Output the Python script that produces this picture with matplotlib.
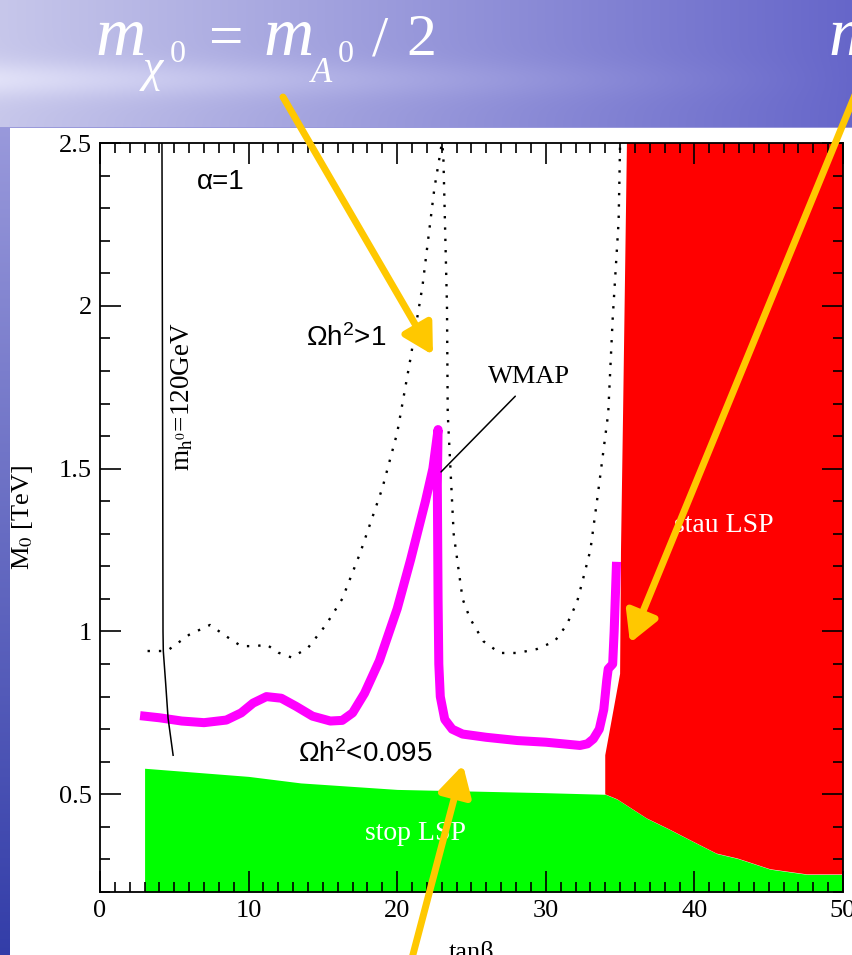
import matplotlib.pyplot as plt
import numpy as np
from matplotlib.patches import Rectangle, FancyArrowPatch
from matplotlib.ticker import MultipleLocator

plt.rcParams['font.family'] = 'Liberation Serif'
plt.rcParams['mathtext.fontset'] = 'custom'
plt.rcParams['mathtext.rm'] = 'Liberation Sans'
plt.rcParams['mathtext.it'] = 'Liberation Sans:italic'

# --- values (tan beta, M0 in TeV) ---
m0_min, m0_max = 0.2, 2.5

# stop LSP region, upper edge
tanb_stop = [3, 10, 13.5, 20, 30, 34, 34.8, 36.8, 38.2, 39.9, 41.5, 42.9, 45.1, 47.6, 50]
m0_stop = [0.58, 0.555, 0.535, 0.515, 0.505, 0.50, 0.485, 0.426, 0.395, 0.355, 0.318, 0.303, 0.27, 0.254, 0.254]

# stau LSP region, left edge (top to bottom)
tanb_stau = [35.46, 35.2, 35.06, 35.0, 34.0, 34.0]
m0_stau = [2.5, 1.67, 1.25, 0.87, 0.62, 0.50]

# WMAP strip
tanb_wmap = [3.0, 4.0, 5.5, 7.0, 8.5, 9.5, 10.3, 11.2, 12.2, 13.2, 14.3, 15.5, 16.3, 17.0, 17.8,
             18.8, 20.0, 20.9, 21.9, 22.4, 22.75, 22.7, 22.75, 22.8, 22.9, 23.2, 23.7, 24.4, 26.0,
             28.1, 30.0, 32.3, 32.8, 33.2, 33.6, 33.9, 34.1, 34.2, 34.5, 34.6, 34.75]
m0_wmap = [0.74, 0.735, 0.725, 0.72, 0.728, 0.75, 0.78, 0.80, 0.795, 0.77, 0.74, 0.725, 0.727, 0.75, 0.81,
           0.91, 1.07, 1.22, 1.40, 1.50, 1.62, 1.45, 1.10, 0.90, 0.80, 0.73, 0.70, 0.685, 0.675,
           0.665, 0.66, 0.65, 0.655, 0.67, 0.70, 0.76, 0.85, 0.885, 0.90, 1.0, 1.2]

# Omega h^2 = 1 contour
tanb_omega = [3.2, 4.5, 6.0, 7.4, 8.5, 9.5, 10.5, 11.2, 12.0, 12.9, 14.0, 15.2, 16.3, 17.5, 19.0,
              20.0, 20.9, 21.7, 22.5, 22.9, 23.0, 23.1, 23.35, 23.4, 23.8, 24.4, 24.9, 25.8, 26.9,
              28.1, 29.4, 30.6, 31.4, 32.1, 32.5, 33.0, 33.5, 34.2, 34.5, 34.9, 35.0]
m0_omega = [0.94, 0.94, 0.99, 1.02, 0.985, 0.955, 0.955, 0.96, 0.935, 0.92, 0.95, 1.02, 1.10, 1.24,
            1.44, 1.61, 1.84, 2.06, 2.36, 2.47, 2.5, 2.47, 2.0, 1.67, 1.30, 1.10, 1.04, 0.97, 0.934,
            0.934, 0.946, 0.97, 1.02, 1.09, 1.16, 1.25, 1.42, 1.67, 1.96, 2.26, 2.5]

# m_h = 120 GeV contour
tanb_mh = [4.17, 4.22, 4.24, 4.26, 4.42, 4.58, 4.92]
m0_mh = [2.5, 1.5, 1.0, 0.94, 0.84, 0.734, 0.62]

xticks = [0, 10, 20, 30, 40, 50]
xticklabels = ['0', '10', '20', '30', '40', '50']
yticks = [0.5, 1.0, 1.5, 2.0, 2.5]
yticklabels = ['0.5', '1', '1.5', '2', '2.5']

W, H = 853, 955
fig = plt.figure(figsize=(W / 100, H / 100), dpi=100)

# slide background
bg = fig.add_axes([0, 0, 1, 1], zorder=-2)
yy, xx = np.mgrid[0:H, 0:W]
tx = xx / W
band = np.exp(-((yy - 80) / 18.0) ** 2) * 0.10 * (1 - tx)
top = np.stack([0.78 - 0.38 * tx + band, 0.78 - 0.38 * tx + band, 0.92 - 0.13 * tx + band * 0.5], -1)
ty = np.clip((yy - 128) / (H - 128), 0, 1)
side = np.stack([0.60 - 0.40 * ty, 0.60 - 0.36 * ty, 0.86 - 0.20 * ty], -1)
img = np.clip(np.where((yy < 128)[..., None], top, side), 0, 1)
bg.imshow(img, extent=[0, W, H, 0], aspect='auto')
bg.add_patch(Rectangle((10, 128), W - 10, H - 128, color='white', lw=0))
bg.set_xlim(0, W)
bg.set_ylim(H, 0)
bg.axis('off')

# the plot
ax = fig.add_axes([100 / W, 63 / H, 743 / W, 749 / H])
ax.fill_between(tanb_stop, m0_min, m0_stop, color='#00ff00', lw=0)
ax.fill(list(tanb_stau) + tanb_stop[5:] + [50], list(m0_stau) + m0_stop[5:] + [m0_max],
        color='#ff0000', lw=0)
ax.plot(tanb_omega, m0_omega, color='black', lw=1.7, ls=(0, (1, 3.8)))
ax.plot(tanb_wmap, m0_wmap, color='#ff00ff', lw=6.5, solid_joinstyle='round')
ax.plot(tanb_mh, m0_mh, color='black', lw=1.1)

ax.text(8.1, 2.38, 'α=1', family='Liberation Sans', fontsize=20, ha='center', va='center')
ax.text(16.55, 1.90, r'$\Omega\mathrm{h}^2$>1', family='Liberation Sans', fontsize=20,
        ha='center', va='center')
ax.text(13.3, 0.623, r'$\Omega\mathrm{h}^2$<0.095', family='Liberation Sans', fontsize=20,
        ha='left', va='center')
ax.annotate('WMAP', xy=(22.95, 1.49), xytext=(28.9, 1.78), fontsize=19, ha='center', va='center',
            arrowprops=dict(arrowstyle='-', lw=1.1, color='black', relpos=(0.42, 0), shrinkA=5, shrinkB=0))
ax.text(21.2, 0.38, 'stop LSP', color='white', fontsize=20, ha='center', va='center')
ax.text(42.0, 1.325, 'stau LSP', color='white', fontsize=20, ha='center', va='center')
ax.text(5.55, 1.72, r'm$_{\mathrm{h}^0}$=120GeV', rotation=90, fontsize=19.5, ha='center', va='center',
        math_fontfamily='stix')

ax.set_xlim(0, 50)
ax.set_ylim(m0_min, m0_max)
ax.set_xticks(xticks)
ax.set_xticklabels(xticklabels)
ax.set_yticks(yticks)
ax.set_yticklabels(yticklabels)
ax.xaxis.set_minor_locator(MultipleLocator(1))
ax.yaxis.set_minor_locator(MultipleLocator(0.1))
ax.tick_params(which='both', direction='in', top=True, right=True, width=1.2, labelsize=19, pad=6)
ax.tick_params(which='major', length=15)
ax.tick_params(which='minor', length=7.5)
for s in ax.spines.values():
    s.set_linewidth(1.3)
ax.set_xlabel('tanβ', fontsize=19)
ax.set_ylabel(r'M$_0$ [TeV]', fontsize=19, math_fontfamily='stix')
ax.xaxis.set_label_coords(0.5, -0.066)
ax.yaxis.set_label_coords(-0.088, 0.5)

# slide overlay: formula and arrows (pixel coordinates)
ov = fig.add_axes([0, 0, 1, 1], zorder=5)
ov.set_xlim(0, W)
ov.set_ylim(H, 0)
ov.axis('off')
ov.patch.set_alpha(0)

tw = dict(color='white', va='baseline', ha='left')
ov.text(95, 55, 'm', fontsize=50, style='italic', **tw)
ov.text(143, 81, 'χ', fontsize=33, style='italic', **tw)
ov.text(170, 62, '0', fontsize=23, **tw)
ov.text(209, 56, '=', fontsize=44, **tw)
ov.text(263, 55, 'm', fontsize=50, style='italic', **tw)
ov.text(311, 82, 'A', fontsize=25, style='italic', **tw)
ov.text(338, 62, '0', fontsize=23, **tw)
ov.text(372, 55, '/', fontsize=42, **tw)
ov.text(406, 55, '2', fontsize=43, **tw)
ov.text(828, 55, 'm', fontsize=50, style='italic', **tw)

arrow_style = '-|>,head_length=0.45,head_width=0.25'
for start, end in [((283, 97), (433, 355)), ((862, 78), (630, 643)), ((411, 962), (463, 765))]:
    ov.add_patch(FancyArrowPatch(start, end, arrowstyle=arrow_style, mutation_scale=40, lw=5,
                                 color='#ffc800', shrinkA=0, shrinkB=0))

fig.savefig('out.png', dpi=100)
